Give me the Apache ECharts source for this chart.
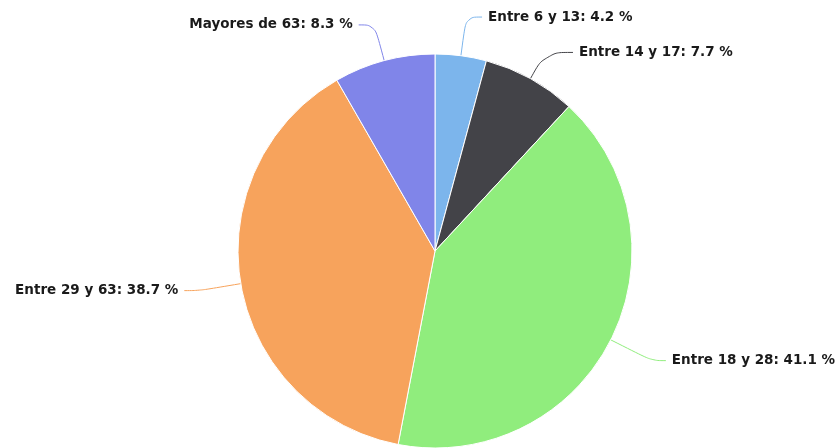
<!DOCTYPE html>
<html><head><meta charset="utf-8">
<script src="https://cdn.jsdelivr.net/npm/echarts@6/dist/echarts.min.js"></script>
<style>html,body{margin:0;padding:0;background:#fff}#c{width:839px;height:448px}</style>
</head><body><div id="c"></div>
<script>
const categories = ['Entre 6 y 13', 'Entre 14 y 17', 'Entre 18 y 28', 'Entre 29 y 63', 'Mayores de 63'];
const values = [4.2, 7.7, 41.1, 38.7, 8.3];
const colors = ['#7cb5ec', '#434348', '#90ed7d', '#f7a35c', '#8085e9'];
const lineLen1 = [39, 30, 46, 42, 37];
const lineLen2 = [16, 28, 14, 15, 16];

const chart = echarts.init(document.getElementById('c'));
chart.setOption({
  animation: false,
  series: [{
    type: 'pie',
    center: [435, 251],
    radius: [0, 197],
    startAngle: 90,
    clockwise: true,
    avoidLabelOverlap: false,
    data: categories.map((n, i) => ({
      name: n, value: values[i],
      itemStyle: { color: colors[i] },
      labelLine: { length: lineLen1[i], length2: lineLen2[i], lineStyle: { color: colors[i] } }
    })),
    itemStyle: { borderColor: '#fff', borderWidth: 1 },
    label: {
      formatter: p => p.name + ': ' + p.value.toFixed(1) + ' %',
      fontFamily: 'DejaVu Sans',
      fontWeight: 'bold',
      fontSize: 13.5,
      color: '#1a1a1a',
      overflow: 'none',
      distanceToLabelLine: 6
    },
    labelLine: { show: true, smooth: 0.4, lineStyle: { width: 1 } }
  }]
});
</script></body></html>
